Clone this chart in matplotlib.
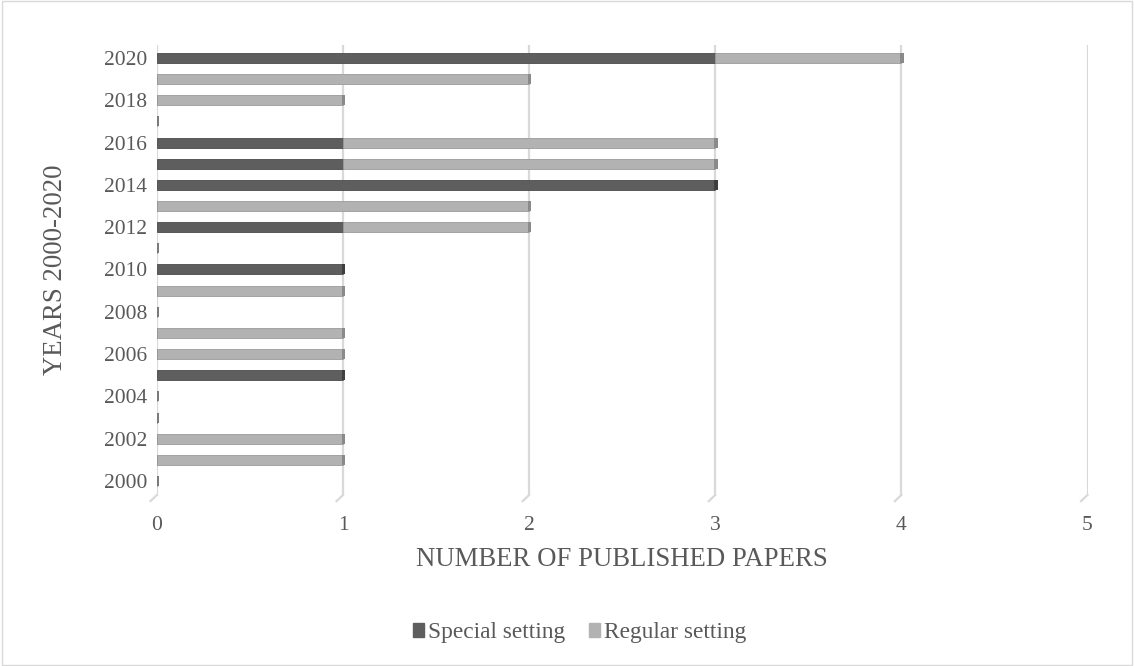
import matplotlib.pyplot as plt
from matplotlib.patches import Rectangle
import numpy as np

years = list(range(2000, 2021))
special = [0, 0, 0, 0, 0, 1, 0, 0, 0, 0, 1, 0, 1, 0, 3, 1, 1, 0, 0, 0, 3]
regular = [0, 1, 1, 0, 0, 0, 1, 1, 0, 1, 0, 0, 1, 2, 0, 2, 2, 0, 1, 2, 1]
year_labels = [str(y) if y % 2 == 0 else "" for y in years]

dark = "#5e5e5e"
light = "#b2b2b2"
text_col = "#595959"

plt.rcParams['font.family'] = ['Liberation Serif', 'DejaVu Serif']

fig = plt.figure(figsize=(11.34, 6.66), dpi=100)
ax = fig.add_axes([0.1384, 0.2568, 0.8206, 0.6756])

pos = np.arange(len(years))
h = 0.47
spec = np.array(special)
reg = np.array(regular)

ax.barh(pos, spec, height=h, color=dark, edgecolor="#4a4a4a", linewidth=0.6, zorder=3)
ax.barh(pos, reg, left=spec, height=h, color=light, edgecolor="#9a9a9a", linewidth=0.6, zorder=3)

# darker end caps give the bars a little depth
tot = spec + reg
cap_col = np.where(reg > 0, "#8a8a8a", "#3f3f3f")
cap_col = np.where(tot == 0, "#7a7a7a", cap_col)
ax.barh(pos, 0.018, left=tot - 0.006, height=h, color=cap_col, linewidth=0, zorder=4)

ax.set_xlim(0, 5)
ax.set_ylim(-0.66, 20.61)
ax.set_xticks(range(6))
ax.set_yticks(pos)
ax.set_yticklabels(year_labels)
ax.grid(axis="x", color="#d9d9d9", linewidth=1.6, zorder=0)
ax.set_axisbelow(True)

# slanted floor marks at the foot of each gridline
for gx in range(6):
    ax.plot([gx, gx - 0.035], [-0.66, -0.95], color="#d9d9d9", linewidth=1.6,
            clip_on=False, zorder=0)

for s in ax.spines.values():
    s.set_visible(False)
ax.tick_params(length=0, labelsize=15.5, labelcolor=text_col)
ax.tick_params(axis="x", pad=15)
ax.tick_params(axis="y", pad=7)

ax.set_xlabel("NUMBER OF PUBLISHED PAPERS", fontsize=19.3, color=text_col, labelpad=9)
ax.set_ylabel("YEARS 2000-2020", fontsize=19.3, color=text_col, labelpad=26)

handles = [Rectangle((0, 0), 1, 1, color=dark), Rectangle((0, 0), 1, 1, color=light)]
fig.legend(handles, ["Special setting", "Regular setting"], loc="center",
           bbox_to_anchor=(0.511, 0.05), ncol=2, frameon=False, fontsize=16.8,
           handlelength=0.5, handleheight=0.5, handletextpad=0.15, columnspacing=1.0,
           labelcolor=text_col)

fig.patches.append(Rectangle((0.002, 0.002), 0.996, 0.996, transform=fig.transFigure,
                             fill=False, edgecolor="#d9d9d9", linewidth=1))

fig.savefig("out.png", dpi=100)
